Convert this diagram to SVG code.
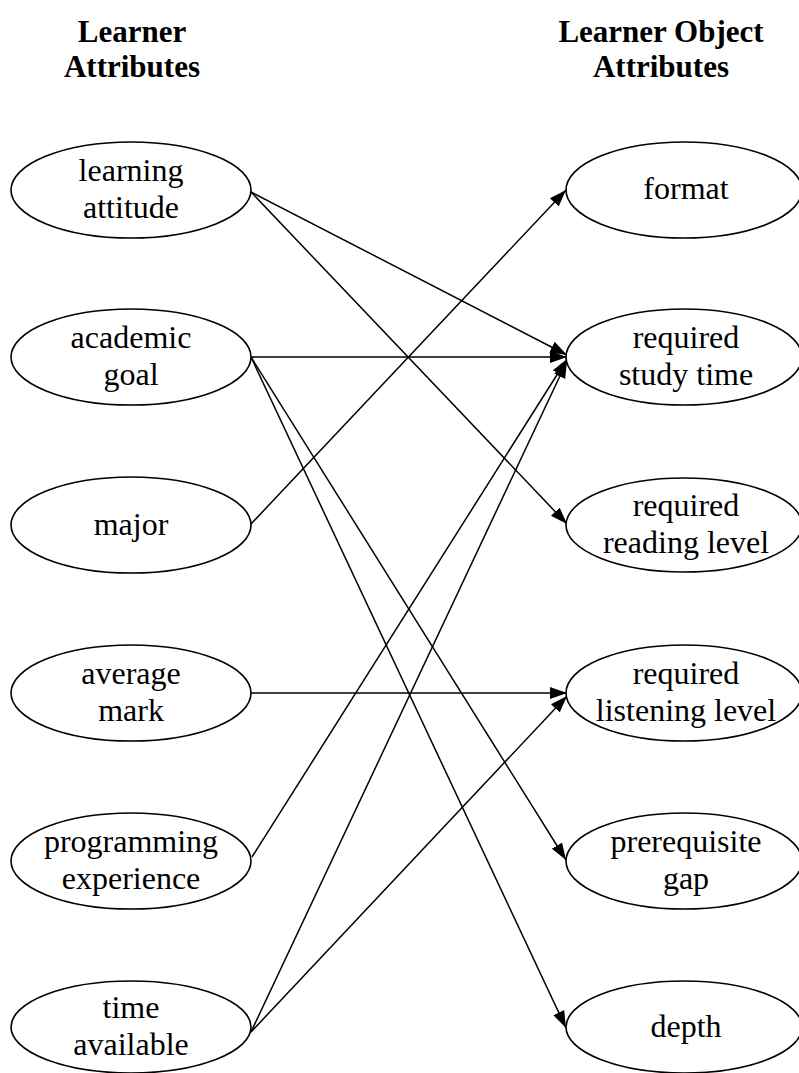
<svg xmlns="http://www.w3.org/2000/svg" width="799" height="1073" viewBox="0 0 799 1073">
  <style>
    .node ellipse { fill: #ffffff; stroke: #000000; stroke-width: 1.6; }
    .node text { font-family: "Liberation Serif", "Times New Roman", serif; font-size: 32px; fill: #000000; text-anchor: middle; }
    .head { font-family: "Liberation Serif", "Times New Roman", serif; font-size: 31px; font-weight: bold; fill: #000000; text-anchor: middle; }
    .edges line { stroke: #000000; stroke-width: 1.5; fill: none; marker-end: url(#arrow); }
  </style>
  <defs>
    <marker id="arrow" markerUnits="userSpaceOnUse" markerWidth="18" markerHeight="14" refX="17" refY="7" orient="auto">
      <path d="M0,1 L17,7 L0,13 Z" fill="#000000"/>
    </marker>
  </defs>

  <!-- column headings -->
  <g id="heading-left">
    <text class="head" x="132" y="42">Learner</text>
    <text class="head" x="132" y="77">Attributes</text>
  </g>
  <g id="heading-right">
    <text class="head" x="661" y="42">Learner Object</text>
    <text class="head" x="661" y="77">Attributes</text>
  </g>

  <!-- connectors -->
  <g id="edges" class="edges">
    <line x1="251" y1="192" x2="567" y2="355"/>
    <line x1="251" y1="192" x2="567" y2="524"/>
    <line x1="251" y1="357" x2="567" y2="357"/>
    <line x1="251" y1="357" x2="566" y2="860"/>
    <line x1="251" y1="357" x2="566" y2="1028"/>
    <line x1="251" y1="524" x2="566" y2="190"/>
    <line x1="251" y1="693" x2="567" y2="693"/>
    <line x1="252" y1="857" x2="567" y2="359"/>
    <line x1="251" y1="1032" x2="567" y2="361"/>
    <line x1="251" y1="1032" x2="567" y2="696"/>
  </g>

  <!-- learner attributes -->
  <g id="learning-attitude" class="node">
    <ellipse cx="131" cy="190" rx="120" ry="48"/>
    <text x="131" y="181">learning</text>
    <text x="131" y="218">attitude</text>
  </g>
  <g id="academic-goal" class="node">
    <ellipse cx="131" cy="357" rx="120" ry="48"/>
    <text x="131" y="348">academic</text>
    <text x="131" y="385">goal</text>
  </g>
  <g id="major" class="node">
    <ellipse cx="131" cy="525" rx="120" ry="48"/>
    <text x="131" y="535">major</text>
  </g>
  <g id="average-mark" class="node">
    <ellipse cx="131" cy="693" rx="120" ry="48"/>
    <text x="131" y="684">average</text>
    <text x="131" y="721">mark</text>
  </g>
  <g id="programming-experience" class="node">
    <ellipse cx="131" cy="861" rx="120" ry="48"/>
    <text x="131" y="852">programming</text>
    <text x="131" y="889">experience</text>
  </g>
  <g id="time-available" class="node">
    <ellipse cx="131" cy="1027" rx="120" ry="46"/>
    <text x="131" y="1018">time</text>
    <text x="131" y="1055">available</text>
  </g>

  <!-- learning object attributes -->
  <g id="format" class="node">
    <ellipse cx="684" cy="190" rx="118" ry="48"/>
    <text x="686" y="199">format</text>
  </g>
  <g id="required-study-time" class="node">
    <ellipse cx="684" cy="357" rx="118" ry="48"/>
    <text x="686" y="348">required</text>
    <text x="686" y="385">study time</text>
  </g>
  <g id="required-reading-level" class="node">
    <ellipse cx="684" cy="525" rx="118" ry="47"/>
    <text x="686" y="516">required</text>
    <text x="686" y="553">reading level</text>
  </g>
  <g id="required-listening-level" class="node">
    <ellipse cx="684" cy="693" rx="118" ry="48"/>
    <text x="686" y="684">required</text>
    <text x="686" y="721">listening level</text>
  </g>
  <g id="prerequisite-gap" class="node">
    <ellipse cx="684" cy="861" rx="118" ry="48"/>
    <text x="686" y="852">prerequisite</text>
    <text x="686" y="889">gap</text>
  </g>
  <g id="depth" class="node">
    <ellipse cx="684" cy="1027" rx="118" ry="46"/>
    <text x="686" y="1037">depth</text>
  </g>
</svg>
